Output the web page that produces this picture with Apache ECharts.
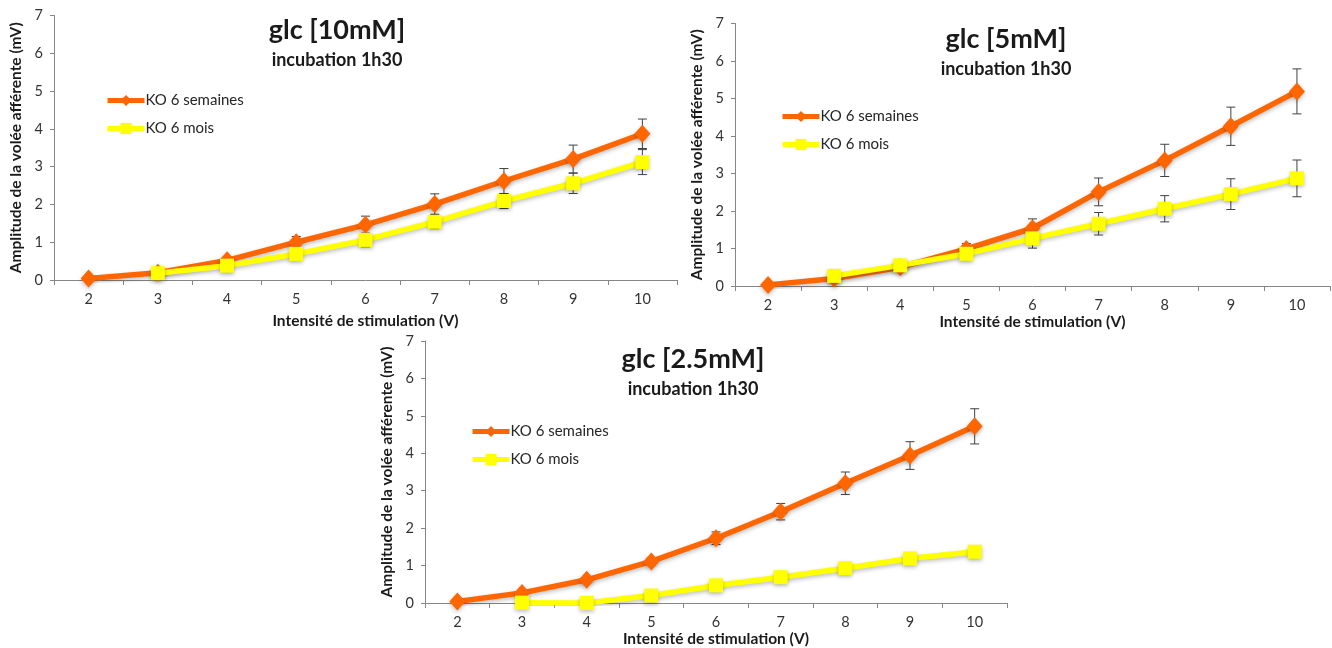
<!DOCTYPE html>
<html>
<head>
<meta charset="utf-8">
<script src="https://cdn.jsdelivr.net/npm/echarts@6/dist/echarts.min.js"></script>
<style>
html,body{margin:0;padding:0;background:#fff;}
#main{width:1332px;height:648px;}
</style>
</head>
<body>
<div id="main"></div>
<script>
// categories (stimulation intensity, V)
var volts = ['2', '3', '4', '5', '6', '7', '8', '9', '10'];
var yTicks = [0, 1, 2, 3, 4, 5, 6, 7];

// glc 10mM
var weeks10 = [0.04, 0.19, 0.52, 1.0, 1.46, 2.01, 2.62, 3.2, 3.87];
var weeks10Err = [null, null, 0.05, 0.15, 0.23, 0.27, 0.33, 0.37, 0.39];
var months10 = ['-', 0.18, 0.38, 0.69, 1.06, 1.54, 2.09, 2.56, 3.12];
var months10Err = [null, null, 0.05, 0.1, 0.18, 0.18, 0.2, 0.27, 0.33];

// glc 5mM
var weeks5 = [0.03, 0.2, 0.5, 0.99, 1.54, 2.51, 3.35, 4.26, 5.19];
var weeks5Err = [null, null, 0.05, 0.14, 0.25, 0.37, 0.43, 0.51, 0.6];
var months5 = ['-', 0.27, 0.55, 0.86, 1.27, 1.66, 2.06, 2.45, 2.87];
var months5Err = [null, null, 0.05, 0.1, 0.26, 0.3, 0.35, 0.41, 0.49];

// glc 2.5mM
var weeks25 = [0.04, 0.27, 0.62, 1.11, 1.73, 2.44, 3.2, 3.94, 4.72];
var weeks25Err = [null, null, 0.05, 0.1, 0.17, 0.22, 0.3, 0.37, 0.47];
var months25 = ['-', 0.01, 0.0, 0.2, 0.47, 0.69, 0.93, 1.19, 1.37];
var months25Err = [null, null, null, null, null, null, null, null, null];

var titles = ['glc [10mM]', 'glc [5mM]', 'glc [2.5mM]'];
var subTitle = 'incubation 1h30';
var nameWeeks = 'KO 6 semaines';
var nameMonths = 'KO 6 mois';
var xName = 'Intensité de stimulation (V)';
var yName = 'Amplitude de la volée afférente (mV)';

var FONT = 'Lato, "Open Sans", sans-serif';
var ORANGE = '#ff6600';
var YELLOW = '#ffff00';

var panels = [
    {weeks: weeks10, weeksErr: weeks10Err, months: months10, monthsErr: months10Err,
     grid: {left: 54, top: 15.5, width: 623, height: 264.5},
     title: {x: 337, y: 17}, legend: {x: 105, y: 93}, xGap: 33},
    {weeks: weeks5, weeksErr: weeks5Err, months: months5, monthsErr: months5Err,
     grid: {left: 735, top: 23.5, width: 595, height: 262.5},
     title: {x: 1006, y: 26}, legend: {x: 780, y: 109}, xGap: 28},
    {weeks: weeks25, weeksErr: weeks25Err, months: months25, monthsErr: months25Err,
     grid: {left: 425, top: 341, width: 582, height: 262},
     title: {x: 693, y: 346}, legend: {x: 470, y: 424}, xGap: 23}
];

function errorData(vals, errs) {
    var out = [];
    vals.forEach(function (v, i) {
        if (errs[i] != null && v !== '-') {
            out.push([i, v - errs[i], v + errs[i]]);
        }
    });
    return out;
}

function renderErrorBar(params, api) {
    var x = api.value(0);
    var lo = api.coord([x, api.value(1)]);
    var hi = api.coord([x, api.value(2)]);
    var w = 4.5;
    var style = {stroke: '#404040', lineWidth: 1};
    return {
        type: 'group',
        children: [
            {type: 'line', shape: {x1: hi[0], y1: hi[1], x2: lo[0], y2: lo[1]}, style: style},
            {type: 'line', shape: {x1: hi[0] - w, y1: hi[1], x2: hi[0] + w, y2: hi[1]}, style: style},
            {type: 'line', shape: {x1: lo[0] - w, y1: lo[1], x2: lo[0] + w, y2: lo[1]}, style: style}
        ]
    };
}

var shadow = {shadowColor: 'rgba(0,0,0,0.25)', shadowBlur: 4, shadowOffsetY: 2};

var option = {
    backgroundColor: '#fff',
    animation: false,
    title: [],
    legend: [],
    grid: [],
    xAxis: [],
    yAxis: [],
    series: []
};

panels.forEach(function (p, k) {
    option.title.push({
        text: titles[k],
        subtext: subTitle,
        left: p.title.x,
        top: p.title.y,
        textAlign: 'center',
        itemGap: 7,
        padding: 0,
        textStyle: {fontFamily: FONT, fontSize: 27, fontWeight: 'bold', color: '#1a1a1a'},
        subtextStyle: {fontFamily: FONT, fontSize: 18, fontWeight: 'bold', color: '#1a1a1a'}
    });
    option.legend.push({
        data: [nameWeeks, nameMonths],
        orient: 'vertical',
        left: p.legend.x,
        top: p.legend.y,
        padding: 0,
        itemWidth: 37,
        itemHeight: 14,
        itemGap: 13,
        selectedMode: false,
        lineStyle: {width: 5},
        textStyle: {fontFamily: FONT, fontSize: 15, color: '#262626', padding: [0, 0, 0, -4]}
    });
    option.grid.push(Object.assign({outerBoundsMode: 'none', containLabel: false}, p.grid));
    option.xAxis.push({
        type: 'category',
        gridIndex: k,
        data: volts,
        boundaryGap: true,
        name: xName,
        nameLocation: 'middle',
        nameGap: p.xGap,
        nameTextStyle: {fontFamily: FONT, fontSize: 15.5, fontWeight: 'bold', color: '#1a1a1a'},
        axisLine: {lineStyle: {color: '#868686', width: 1}},
        axisTick: {show: true, length: 5, lineStyle: {color: '#868686'}},
        axisLabel: {fontFamily: FONT, fontSize: 14.5, color: '#333', margin: 12},
        splitLine: {show: false}
    });
    option.yAxis.push({
        type: 'value',
        gridIndex: k,
        min: yTicks[0],
        max: yTicks[yTicks.length - 1],
        interval: 1,
        name: yName,
        nameLocation: 'middle',
        nameRotate: 90,
        nameGap: 30,
        nameTextStyle: {fontFamily: FONT, fontSize: 15.5, fontWeight: 'bold', color: '#1a1a1a'},
        axisLine: {show: true, lineStyle: {color: '#868686', width: 1}},
        axisTick: {show: true, length: 4, lineStyle: {color: '#868686'}},
        axisLabel: {fontFamily: FONT, fontSize: 14.5, color: '#333', margin: 11},
        splitLine: {show: false}
    });
    option.series.push(
        {
            type: 'custom', name: 'errWeeks' + k, xAxisIndex: k, yAxisIndex: k, z: 1,
            renderItem: renderErrorBar, data: errorData(p.weeks, p.weeksErr), silent: true
        },
        {
            type: 'custom', name: 'errMonths' + k, xAxisIndex: k, yAxisIndex: k, z: 1,
            renderItem: renderErrorBar, data: errorData(p.months, p.monthsErr), silent: true
        },
        {
            type: 'line', name: nameWeeks, xAxisIndex: k, yAxisIndex: k, z: 2,
            data: p.weeks,
            symbol: 'diamond', symbolSize: [16, 18], showAllSymbol: true,
            lineStyle: Object.assign({color: ORANGE, width: 5.5}, shadow),
            itemStyle: Object.assign({color: ORANGE}, shadow)
        },
        {
            type: 'line', name: nameMonths, xAxisIndex: k, yAxisIndex: k, z: 3,
            data: p.months,
            symbol: 'rect', symbolSize: 14, showAllSymbol: true,
            lineStyle: Object.assign({color: YELLOW, width: 5.5}, shadow),
            itemStyle: Object.assign({color: YELLOW}, shadow)
        }
    );
});

var myChart = echarts.init(document.getElementById('main'));
myChart.setOption(option);
</script>
</body>
</html>
